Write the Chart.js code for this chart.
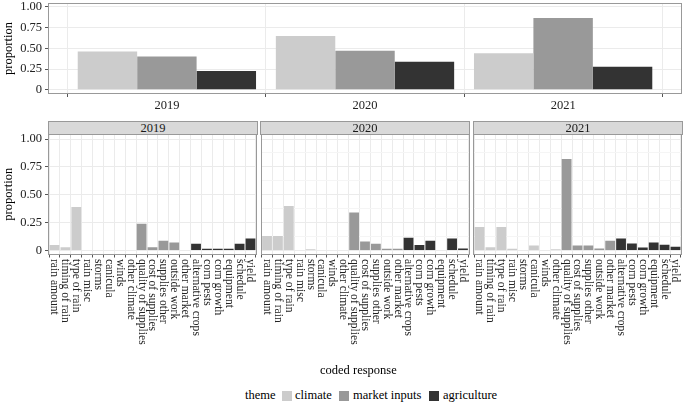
<!DOCTYPE html>
<html><head><meta charset="utf-8">
<script src="https://cdn.jsdelivr.net/npm/chart.js@4.4.0/dist/chart.umd.min.js"></script>
<style>
html,body{margin:0;padding:0;background:#fff;}
body{width:685px;height:403px;position:relative;overflow:hidden;font-family:'Liberation Serif','DejaVu Serif',serif;color:#1a1a1a;}
canvas{position:absolute;}
.strip{position:absolute;top:121px;height:14px;box-sizing:border-box;background:#d9d9d9;border:1px solid #999;font-size:12.5px;line-height:12px;text-align:center;color:#1a1a1a;}
.txt{position:absolute;font-size:12.5px;line-height:13px;white-space:nowrap;color:#000;}
.sw{position:absolute;top:391px;width:10px;height:10px;}
</style></head>
<body>
<canvas id="top" width="685" height="121" style="left:0;top:-5px;"></canvas>
<canvas id="p1" width="259" height="226" style="left:0;top:126px;"></canvas>
<canvas id="p2" width="214" height="226" style="left:258px;top:126px;"></canvas>
<canvas id="p3" width="213" height="226" style="left:471px;top:126px;"></canvas>
<div class="strip" id="s1" style="left:48px;width:210px;"></div>
<div class="strip" id="s2" style="left:260px;width:210px;"></div>
<div class="strip" id="s3" style="left:473px;width:210px;"></div>
<div class="txt" id="xtitle" style="left:320px;top:364px;"></div>
<div class="txt" id="legTitle" style="left:245px;top:389px;"></div>
<div class="sw" style="left:282px;background:#cccccc;"></div>
<div class="txt" id="leg0" style="left:295px;top:389px;"></div>
<div class="sw" style="left:339px;background:#999999;"></div>
<div class="txt" id="leg1" style="left:353px;top:389px;"></div>
<div class="sw" style="left:429px;background:#333333;"></div>
<div class="txt" id="leg2" style="left:443px;top:389px;"></div>
<script>
// ---- data ----
const years = ['2019', '2020', '2021'];
const themes = ['climate', 'market inputs', 'agriculture'];
const overallClimate = [0.46, 0.648, 0.44];
const overallMarket = [0.40, 0.471, 0.866];
const overallAgriculture = [0.228, 0.339, 0.278];
const climateCodes = ['rain amount', 'timing of rain', 'type of rain', 'rain misc', 'storms', 'canicula', 'winds', 'other climate'];
const marketCodes = ['quality of supplies', 'cost of supplies', 'supplies other', 'outside work', 'other market'];
const agricultureCodes = ['alternative crops', 'corn pests', 'corn growth', 'equipment', 'schedule', 'yield'];
const codes2019 = [0.05, 0.03, 0.39, 0, 0, 0, 0, 0, 0.24, 0.03, 0.087, 0.072, 0, 0.06, 0.015, 0.015, 0.015, 0.06, 0.108];
const codes2020 = [0.13, 0.13, 0.40, 0, 0.012, 0, 0, 0, 0.34, 0.08, 0.06, 0.015, 0.015, 0.115, 0.05, 0.087, 0, 0.108, 0.018];
const codes2021 = [0.21, 0.03, 0.21, 0.015, 0, 0.045, 0, 0.012, 0.82, 0.045, 0.045, 0.018, 0.087, 0.108, 0.063, 0.027, 0.072, 0.051, 0.033];
const yTicks = [0, 0.125, 0.25, 0.375, 0.5, 0.625, 0.75, 0.875, 1];
const yAxisTitle = 'proportion';
const xAxisTitle = 'coded response';
const legendTitle = 'theme';

// ---- styles ----
const themeColors = ['#cccccc', '#999999', '#333333'];
const FAMILY = "'Liberation Serif', 'DejaVu Serif', serif";
const FONT = {family: FAMILY, size: 12.5};
const ROT_SIZE = 11.6;
const TEXT_COLOR = '#222';
const isMajor = v => Math.abs(v * 4 - Math.round(v * 4)) < 1e-6;
const fmt = v => v === 0 ? '0' : v.toFixed(2);

const codes = climateCodes.concat(marketCodes, agricultureCodes);
const codeTheme = climateCodes.map(() => 0).concat(marketCodes.map(() => 1), agricultureCodes.map(() => 2));

document.getElementById('s1').textContent = years[0];
document.getElementById('s2').textContent = years[1];
document.getElementById('s3').textContent = years[2];
document.getElementById('xtitle').textContent = xAxisTitle;
document.getElementById('legTitle').textContent = legendTitle;
themes.forEach((t, i) => document.getElementById('leg' + i).textContent = t);

const noPad = s => { s.paddingTop = 0; s.paddingBottom = 0; s.paddingLeft = 0; s.paddingRight = 0; };

const borderPlugin = {
  id: 'panelBorder',
  afterDraw(chart) {
    const a = chart.chartArea, c = chart.ctx;
    c.save();
    c.strokeStyle = '#999';
    c.lineWidth = 1;
    const l = Math.round(a.left) + 0.5, t = Math.round(a.top) + 0.5;
    const r = Math.round(a.right) - 0.5, b = Math.round(a.bottom) - 0.5;
    c.strokeRect(l, t, r - l, b - t);
    c.restore();
  }
};

const rotLabels = {
  id: 'rotLabels',
  afterDraw(chart) {
    const xs = chart.scales.x, c = chart.ctx, b = chart.chartArea.bottom;
    c.save();
    c.font = `${ROT_SIZE}px ${FAMILY}`;
    c.fillStyle = TEXT_COLOR;
    c.textAlign = 'left';
    c.textBaseline = 'middle';
    codes.forEach((lab, i) => {
      const x = xs.getPixelForValue(i + 1);
      c.save();
      c.translate(x, b + 4.5);
      c.rotate(Math.PI / 2);
      c.fillText(lab, 0, 0);
      c.restore();
    });
    c.restore();
  }
};

function yScale(showLabels, title, min, max, width) {
  return {
    min: min, max: max,
    afterBuildTicks: s => { s.ticks = yTicks.map(v => ({value: v})); },
    ticks: {display: showLabels, font: FONT, color: TEXT_COLOR, padding: 3,
      callback: v => isMajor(v) ? fmt(v) : ''},
    grid: {
      color: c => isMajor(c.tick.value) ? '#ebebeb' : '#f5f5f5',
      tickColor: c => isMajor(c.tick.value) && showLabels ? '#555' : 'rgba(0,0,0,0)',
      tickLength: 3, drawTicks: showLabels
    },
    border: {display: false},
    title: {display: !!title, text: title || '', font: FONT, color: '#000', padding: {top: 1, bottom: 0}},
    afterFit: s => { s.width = width; noPad(s); }
  };
}

// ---- top chart ----
const overall = [overallClimate, overallMarket, overallAgriculture];
new Chart(document.getElementById('top'), {
  type: 'bar',
  data: {
    datasets: themes.map((t, k) => ({
      label: t,
      data: years.map((y, i) => ({x: i + 1, y: overall[k][i]})),
      backgroundColor: themeColors[k],
      borderWidth: 0,
      categoryPercentage: 0.9,
      barPercentage: 1
    }))
  },
  options: {
    responsive: false, animation: false,
    layout: {padding: {left: 0, right: 3, top: 8, bottom: 0}},
    plugins: {legend: {display: false}, tooltip: {enabled: false}},
    scales: {
      x: {
        type: 'linear', min: 0.4, max: 3.6, offset: false,
        afterBuildTicks: s => { s.ticks = years.map((y, i) => ({value: i + 1})); },
        ticks: {font: FONT, color: TEXT_COLOR, padding: 1, maxRotation: 0, autoSkip: false,
          callback: v => years[Math.round(v) - 1]},
        grid: {color: '#ebebeb', tickColor: '#555', tickLength: 3},
        border: {display: false},
        afterFit: s => { s.height = 22; noPad(s); }
      },
      y: yScale(true, yAxisTitle, -0.05, 1.045, 48)
    }
  },
  plugins: [borderPlugin]
});

// ---- faceted panels ----
function panel(id, values, padL, padR, showY) {
  new Chart(document.getElementById(id), {
    type: 'bar',
    data: {
      datasets: [{
        data: values.map((v, i) => ({x: i + 1, y: v})),
        backgroundColor: values.map((v, i) => themeColors[codeTheme[i]]),
        borderWidth: 0,
        categoryPercentage: 0.9,
        barPercentage: 1
      }]
    },
    options: {
      responsive: false, animation: false,
      layout: {padding: {left: padL, right: padR, top: 8, bottom: 0}},
      plugins: {legend: {display: false}, tooltip: {enabled: false}},
      scales: {
        x: {
          type: 'linear', min: 0.4, max: codes.length + 0.6, offset: false,
          afterBuildTicks: s => { s.ticks = codes.map((c, i) => ({value: i + 1})); },
          ticks: {display: false},
          grid: {color: '#ebebeb', tickColor: '#555', tickLength: 3},
          border: {display: false},
          afterFit: s => { s.height = 226 - 8 - 120.5; noPad(s); }
        },
        y: yScale(showY, showY ? yAxisTitle : '', -0.036, 1.045, showY ? 48 : 0)
      }
    },
    plugins: [borderPlugin, rotLabels]
  });
}
panel('p1', codes2019, 0, 2, true);
panel('p2', codes2020, 2.5, 2.5, false);
panel('p3', codes2021, 2, 2, false);
</script>
</body></html>
